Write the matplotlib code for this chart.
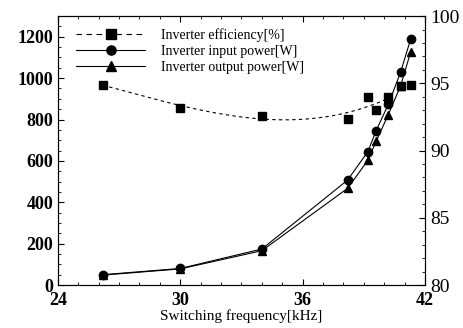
import numpy as np
import matplotlib.pyplot as plt
from matplotlib.ticker import MultipleLocator

plt.rcParams['font.family'] = ['Liberation Serif', 'DejaVu Serif']

# switching frequency [kHz]
freq = [26.2, 30.0, 34.0, 38.2, 39.2, 39.6, 40.2, 40.8, 41.3]
eff = [94.9, 93.2, 92.6, 92.35, 93.95, 93.05, 94.0, 94.8, 94.85]
p_in = [50, 80, 174, 507, 645, 746, 873, 1028, 1190]
p_out = [48, 78, 166, 467, 603, 694, 824, 962, 1128]

fig = plt.figure(figsize=(4.63, 3.28), dpi=100)
ax = fig.add_axes([0.125, 0.131, 0.793, 0.820])
ax2 = ax.twinx()

# trend line of the efficiency (first 7 points)
c = np.polyfit(freq[:7], eff[:7], 3)
xx = np.linspace(freq[0], freq[6], 200)

ax2.plot(xx, np.polyval(c, xx), 'k--', lw=0.8, dashes=(3, 3))
ax2.plot(freq, eff, 'ks', ms=6, ls='none')
l2, = ax.plot(freq, p_in, 'k-o', lw=0.8, ms=6)
l3, = ax.plot(freq, p_out, 'k-^', lw=0.8, ms=6)

h1, = ax.plot([], [], 'k--s', lw=0.8, ms=7, dashes=(5, 4))
ax.legend([h1, l2, l3], ["Inverter efficiency[%]", "Inverter input power[W]",
                         "Inverter output power[W]"],
          loc='upper left', bbox_to_anchor=(0, 1.022), frameon=False,
          fontsize=10, handlelength=5, markerscale=1.1,
          borderaxespad=0.9, labelspacing=0.22, handletextpad=1.1)

ax.set_xlim(24, 42)
ax.set_ylim(0, 1300)
ax2.set_ylim(80, 100)
ax.set_xticks([24, 30, 36, 42])
ax.xaxis.set_minor_locator(MultipleLocator(1))
ax.set_yticks([0, 200, 400, 600, 800, 1000, 1200])
ax.yaxis.set_minor_locator(MultipleLocator(50))
ax2.set_yticks([80, 85, 90, 95, 100])
ax2.yaxis.set_minor_locator(MultipleLocator(1))

ax.tick_params(which='both', direction='in', top=True)
ax.tick_params(which='major', length=4, labelsize=13)
ax.tick_params(which='minor', length=2)
ax.tick_params(axis='x', pad=5)
ax2.tick_params(which='both', direction='in')
ax2.tick_params(which='major', length=4, labelsize=14)
ax2.tick_params(which='minor', length=2)
for t in ax.get_xticklabels() + ax.get_yticklabels():
    t.set_fontweight('bold')

ax.set_xlabel("Switching frequency[kHz]", fontsize=11, labelpad=0)

fig.savefig("out.png", dpi=100)
